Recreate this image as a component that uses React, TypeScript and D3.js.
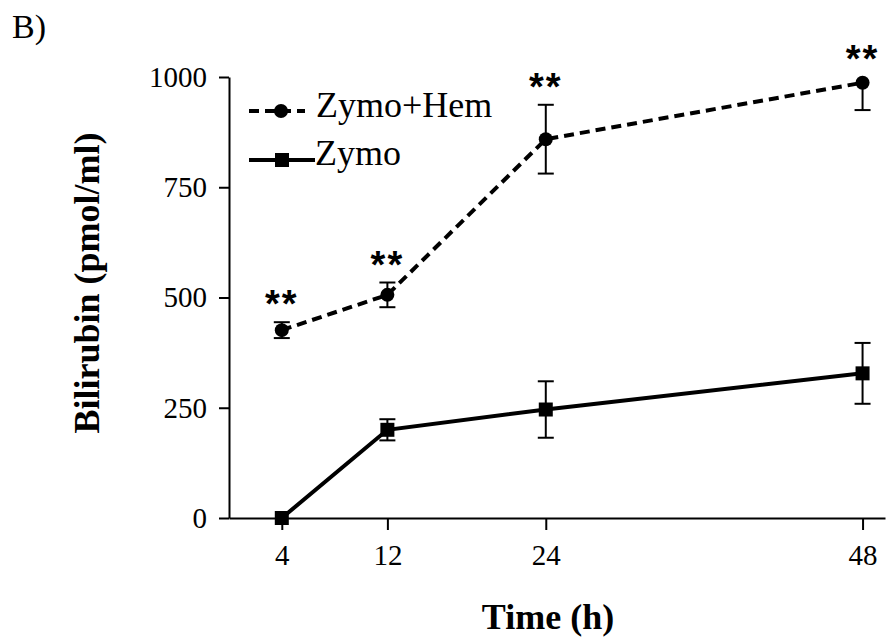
import React, { useEffect, useRef } from "react";
import * as d3 from "d3";

// values
const hours = [4, 12, 24, 48];
const hemMean = [426, 506, 859, 987];
const hemErr = [18, 28, 78, 62];
const zymoMean = [0, 200, 246, 328];
const zymoErr = [0, 24, 64, 69];
const yTicks = [0, 250, 500, 750, 1000];
const xTicks = [4, 12, 24, 48];
const seriesNames = ["Zymo+Hem", "Zymo"];

export default function App() {
  const ref = useRef<SVGSVGElement | null>(null);

  useEffect(() => {
    const svg = d3.select(ref.current);
    svg.selectAll("*").remove();

    const serif = "'Liberation Serif', 'Times New Roman', serif";
    const left = 229;
    const bottom = 518;

    const x = d3.scaleLinear().domain([0, 49.7]).range([left, 885]);
    const y = d3.scaleLinear().domain([0, 1000]).range([bottom, 77]);

    // ----- axes -----
    const yAxis = svg
      .append("g")
      .attr("transform", `translate(${left},0)`)
      .call(
        d3.axisLeft(y).tickValues(yTicks).tickFormat(d3.format("d"))
          .tickSize(10).tickSizeOuter(0).tickPadding(12)
      );
    const xAxis = svg
      .append("g")
      .attr("transform", `translate(0,${bottom})`)
      .call(
        d3.axisBottom(x).tickValues(xTicks).tickFormat(d3.format("d"))
          .tickSize(12).tickSizeOuter(0).tickPadding(14)
      );

    [yAxis, xAxis].forEach(ax => {
      ax.select(".domain").attr("stroke", "#000").attr("stroke-width", 2);
      ax.selectAll(".tick line").attr("stroke", "#000").attr("stroke-width", 2);
      ax.selectAll(".tick text")
        .attr("fill", "#000")
        .style("font-family", serif)
        .style("font-size", "29px");
    });

    // ----- series -----
    const hemData = hours.map((h, i) => ({ h, m: hemMean[i], e: hemErr[i] }));
    const zymoData = hours.map((h, i) => ({ h, m: zymoMean[i], e: zymoErr[i] }));

    const line = d3
      .line<{ h: number; m: number }>()
      .x(d => x(d.h))
      .y(d => y(d.m));

    // error bars, clipped at the top of the axis like the original
    const drawErrors = (data: { h: number; m: number; e: number }[]) => {
      const g = svg.append("g").attr("stroke", "#000").attr("stroke-width", 2);
      data.forEach(d => {
        if (d.e <= 0) return;
        const hi = Math.min(d.m + d.e, 1000);
        const lo = d.m - d.e;
        g.append("line")
          .attr("x1", x(d.h)).attr("x2", x(d.h))
          .attr("y1", y(hi)).attr("y2", y(lo));
        if (d.m + d.e <= 1000) {
          g.append("line")
            .attr("x1", x(d.h) - 8).attr("x2", x(d.h) + 8)
            .attr("y1", y(hi)).attr("y2", y(hi));
        }
        g.append("line")
          .attr("x1", x(d.h) - 8).attr("x2", x(d.h) + 8)
          .attr("y1", y(lo)).attr("y2", y(lo));
      });
    };

    drawErrors(zymoData);
    drawErrors(hemData);

    svg.append("path")
      .datum(zymoData)
      .attr("d", line)
      .attr("fill", "none")
      .attr("stroke", "#000")
      .attr("stroke-width", 4);

    svg.append("path")
      .datum(hemData)
      .attr("d", line)
      .attr("fill", "none")
      .attr("stroke", "#000")
      .attr("stroke-width", 4)
      .attr("stroke-dasharray", "10,6");

    svg.selectAll(".sq")
      .data(zymoData)
      .enter()
      .append("rect")
      .attr("x", d => x(d.h) - 7)
      .attr("y", d => y(d.m) - 7)
      .attr("width", 14)
      .attr("height", 14)
      .attr("fill", "#000");

    svg.selectAll(".dot")
      .data(hemData)
      .enter()
      .append("circle")
      .attr("cx", d => x(d.h))
      .attr("cy", d => y(d.m))
      .attr("r", 7)
      .attr("fill", "#000");

    // significance stars
    svg.selectAll(".star")
      .data(hemData)
      .enter()
      .append("text")
      .attr("x", d => x(d.h))
      .attr("y", d => y(Math.min(d.m + d.e, 1000)) - 5)
      .attr("text-anchor", "middle")
      .style("font-family", "'Liberation Sans', Arial, sans-serif")
      .style("font-weight", "bold")
      .style("font-size", "38px")
      .style("letter-spacing", "2px")
      .text("**");

    // ----- legend -----
    const legend = svg.append("g");
    legend.append("line")
      .attr("x1", 249).attr("x2", 305).attr("y1", 111).attr("y2", 111)
      .attr("stroke", "#000").attr("stroke-width", 4).attr("stroke-dasharray", "10,6");
    legend.append("circle").attr("cx", 281).attr("cy", 111).attr("r", 7).attr("fill", "#000");
    legend.append("line")
      .attr("x1", 249).attr("x2", 315).attr("y1", 160).attr("y2", 160)
      .attr("stroke", "#000").attr("stroke-width", 4);
    legend.append("rect").attr("x", 275).attr("y", 153).attr("width", 14).attr("height", 14).attr("fill", "#000");
    legend.selectAll(".lab")
      .data(seriesNames)
      .enter()
      .append("text")
      .attr("x", (d, i) => (i === 0 ? 316 : 315))
      .attr("y", (d, i) => (i === 0 ? 117 : 165))
      .style("font-family", serif)
      .style("font-size", "36px")
      .text(d => d);

    // ----- titles -----
    svg.append("text")
      .attr("x", 12)
      .attr("y", 38)
      .style("font-family", serif)
      .style("font-size", "34px")
      .text("B)");

    svg.append("text")
      .attr("x", 548)
      .attr("y", 629)
      .attr("text-anchor", "middle")
      .style("font-family", serif)
      .style("font-weight", "bold")
      .style("font-size", "36px")
      .text("Time (h)");

    svg.append("text")
      .attr("transform", "translate(99,283) rotate(-90)")
      .attr("text-anchor", "middle")
      .style("font-family", serif)
      .style("font-weight", "bold")
      .style("font-size", "36px")
      .text("Bilirubin (pmol/ml)");
  }, []);

  return (
    <svg
      ref={ref}
      width={887}
      height={640}
      style={{ position: "absolute", left: 0, top: 0, background: "#fff" }}
    />
  );
}
